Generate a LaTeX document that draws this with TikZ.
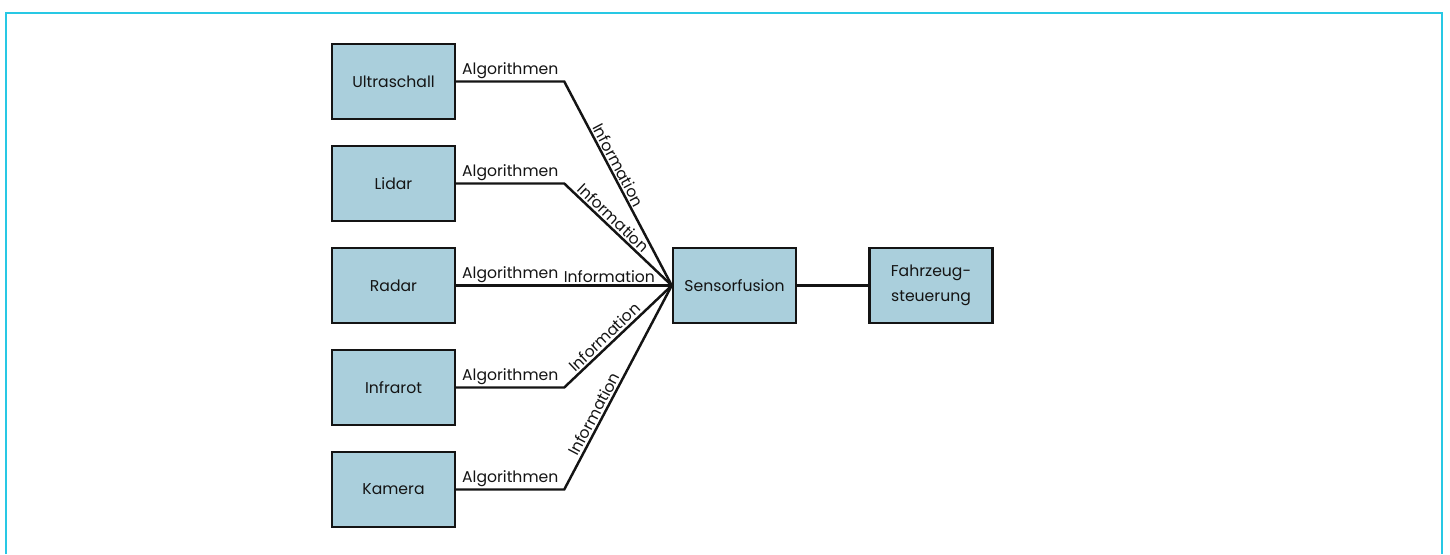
\documentclass[tikz,border=0pt]{standalone}
\usepackage{fontspec}
\setmainfont{Poppins}
\usepackage{tikz}
\usetikzlibrary{positioning}
\definecolor{boxfill}{RGB}{170,207,220}
\definecolor{framecol}{RGB}{40,200,228}
\definecolor{ink}{RGB}{20,20,20}
\newcommand\boxwidth{2.46cm}
\newcommand\boxheight{1.5cm}
\tikzset{
    sensor/.style={draw=ink, fill=boxfill, line width=1.4pt, minimum width=\boxwidth, minimum height=\boxheight, text=ink, align=center, font=\fontsize{8.9}{14.5}\selectfont},
    link/.style={draw=ink, line width=1.4pt},
    lab/.style={text=ink, font=\fontsize{8.9}{10}\selectfont, inner sep=1pt},
    frameline/.style={draw=framecol, line width=1.1pt},
}
\begin{document}
\begin{tikzpicture}[node distance=2.04cm and 6.82cm, on grid]
\useasboundingbox (0,0) rectangle (29,-11.08);
\draw[frameline] (0.12,-11.08) |- (28.84,-0.26) -- (28.84,-11.08);

\node[sensor] (ultra) at (7.87,-1.63) {Ultraschall};
\node[sensor] (lidar)[below=of ultra] {Lidar};
\node[sensor] (radar)[below=of lidar] {Radar};
\node[sensor] (infra)[below=of radar] {Infrarot};
\node[sensor] (kamera)[below=of infra] {Kamera};
\node[sensor] (fusion)[right=of radar] {Sensorfusion};
\node[sensor] (steuer)[right=3.93cm of fusion] {Fahrzeug-\\steuerung};

% Knickpunkte
\coordinate[right=2.16cm of ultra.east] (ultra-k);
\coordinate[right=2.16cm of lidar.east] (lidar-k);
\coordinate[right=2.16cm of radar.east] (radar-k);
\coordinate[right=2.16cm of infra.east] (infra-k);
\coordinate[right=2.16cm of kamera.east] (kamera-k);

\draw[link] (ultra.east) -- node[lab,above]{Algorithmen} (ultra-k) -- node[lab,above,sloped,pos=.43]{Information} (fusion.west);
\draw[link] (lidar.east) -- node[lab,above]{Algorithmen} (lidar-k) -- node[lab,above,sloped,pos=.4]{Information} (fusion.west);
\draw[link] (radar.east) -- node[lab,above]{Algorithmen} (radar-k) -- node[lab,above,sloped,pos=.42]{Information} (fusion.west);
\draw[link] (infra.east) -- node[lab,above]{Algorithmen} (infra-k) -- node[lab,above,sloped,pos=.43]{Information} (fusion.west);
\draw[link] (kamera.east) -- node[lab,above]{Algorithmen} (kamera-k) -- node[lab,above,sloped,pos=.35]{Information} (fusion.west);
\draw[link] (fusion) -- (steuer);
\end{tikzpicture}
\end{document}
